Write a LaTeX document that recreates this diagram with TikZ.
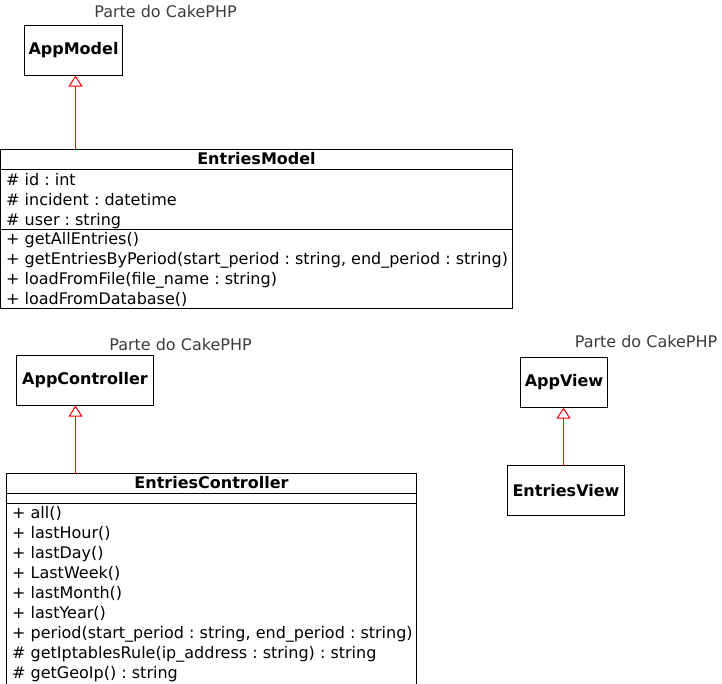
\documentclass[tikz,border=0pt]{standalone}
\usepackage{fontspec}
\setmainfont{DejaVu Sans}
\usetikzlibrary{arrows.meta}

\definecolor{notegray}{HTML}{3C3C3C}
\newcommand{\umlsize}{\fontsize{16}{20}\selectfont\frenchspacing}

\tikzset{
  cls/.style = {draw, line width=1pt, inner sep=0pt, outer sep=0pt, font=\umlsize\bfseries},
  clsname/.style = {anchor=base, inner sep=0pt, font=\umlsize\bfseries},
  member/.style = {anchor=base west, inner sep=0pt, font=\umlsize},
  cakenote/.style = {anchor=base, inner sep=0pt, text=notegray, font=\umlsize},
  divider/.style = {line width=1pt},
  inherit/.style = {color=red, line width=1pt, -{Triangle[open, length=11pt, width=14pt]}}
}

\begin{document}
\begin{tikzpicture}[x=1pt, y=-1pt]
\clip (0,0) rectangle (722,683);

% model
\node[cakenote] (notemodel) at (165.5,17) {Parte do CakePHP};
\node[cls, minimum width=98, minimum height=50] (appmodel) at (73.5,50.5) {AppModel};
\node[cls, anchor=north west, minimum width=512, minimum height=159] (emodel) at (0.5,149.5) {};
\node[clsname] (emodeltitle) at (emodel.north |- 0,164) {EntriesModel};
\draw[divider] (emodel.west |- 0,169.5) -- (emodel.east |- 0,169.5);
\draw[divider] (emodel.west |- 0,229.5) -- (emodel.east |- 0,229.5);
\foreach \t [count=\i] in {\# id : int, \# incident : datetime, \# user : string}
  \node[member] (mattr\i) at (6,165+20*\i) {\t};
\foreach \t [count=\i] in {+ getAllEntries(),
    {+ getEntriesByPeriod(start\_period : string, end\_period : string)},
    + loadFromFile(file\_name : string), + loadFromDatabase()}
  \node[member] (mop\i) at (6,224+20*\i) {\t};
\coordinate (mline) at (75.5,0);
\draw[inherit] (emodel.north -| mline) -- (appmodel.south -| mline);

% controller
\node[cakenote] (notectrl) at (180.5,350) {Parte do CakePHP};
\node[cls, minimum width=137, minimum height=50] (appctrl) at (85,380.5) {AppController};
\node[cls, anchor=north west, minimum width=410, minimum height=240] (ectrl) at (6.5,473.5) {};
\node[clsname] (ectrltitle) at (ectrl.north |- 0,488) {EntriesController};
\draw[divider] (ectrl.west |- 0,493.5) -- (ectrl.east |- 0,493.5);
\draw[divider] (ectrl.west |- 0,503.5) -- (ectrl.east |- 0,503.5);
\foreach \t [count=\i] in {+ all(), + lastHour(), + lastDay(), + LastWeek(),
    + lastMonth(), + lastYear(),
    {+ period(start\_period : string, end\_period : string)},
    \# getIptablesRule(ip\_address : string) : string,
    \# getGeoIp() : string}
  \node[member] (cop\i) at (12,498+20*\i) {\t};
\coordinate (cline) at (75.5,0);
\draw[inherit] (ectrl.north -| cline) -- (appctrl.south -| cline);

% view
\node[cakenote] (noteview) at (646,347) {Parte do CakePHP};
\node[cls, minimum width=87, minimum height=50] (appview) at (564,382.5) {AppView};
\node[cls, minimum width=117, minimum height=50] (eview) at (566,490.5) {EntriesView};
\coordinate (vline) at (563.5,0);
\draw[inherit] (eview.north -| vline) -- (appview.south -| vline);
\end{tikzpicture}
\end{document}
